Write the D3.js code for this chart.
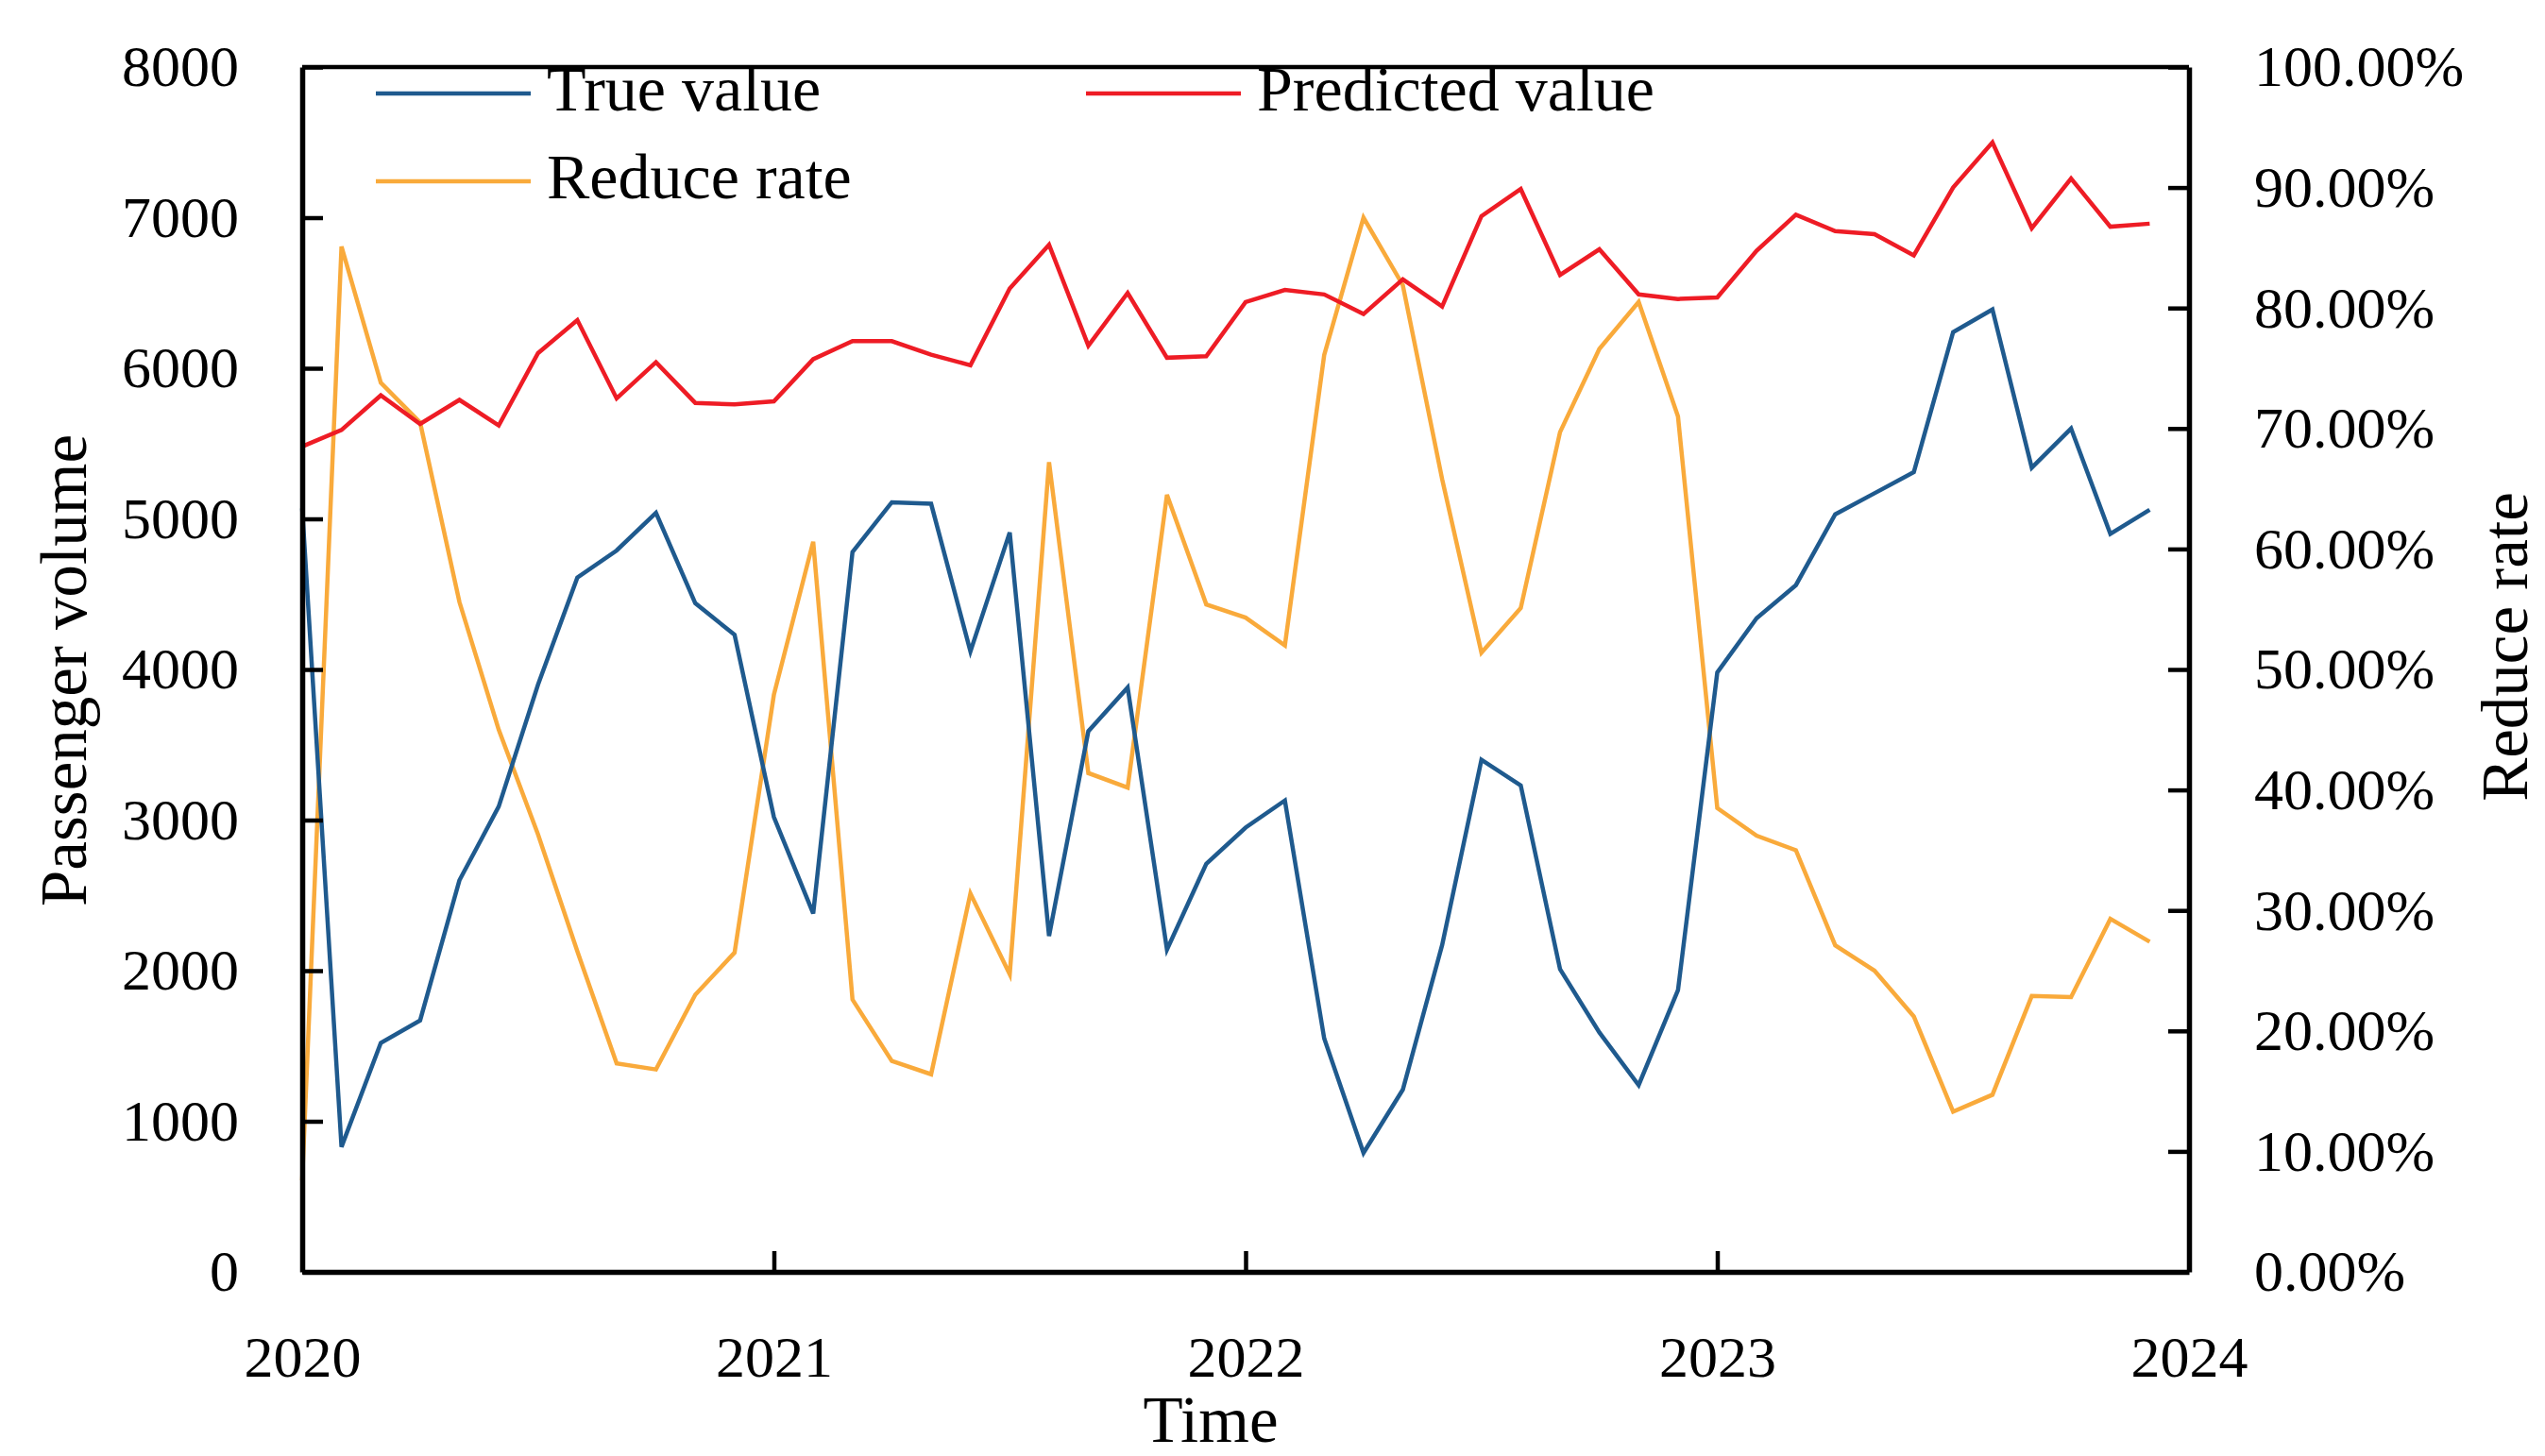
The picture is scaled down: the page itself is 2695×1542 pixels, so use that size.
<!DOCTYPE html>
<html>
<head>
<meta charset="utf-8">
<script src="https://cdn.jsdelivr.net/npm/d3@7"></script>
<style>
  body { margin: 0; background: #fff; }
  text { font-family: "Liberation Serif", serif; }
</style>
</head>
<body>
<svg id="chart"></svg>
<script>
// monthly data, Jan 2020 - Dec 2023
const months = d3.range(48).map(i => 2020 + i / 12)

const trueValue = [
  5070, 830, 1520, 1670, 2600, 3090, 3900, 4610, 4790, 5040, 4440, 4230,
  3020, 2380, 4780, 5110, 5100, 4120, 4910, 2230, 3590, 3880, 2140, 2710,
  2950, 3130, 1550, 790, 1210, 2170, 3400, 3230, 2010, 1590, 1240, 1870,
  3980, 4340, 4560, 5030, 5170, 5310, 6240, 6390, 5340, 5600, 4900, 5060
]
const predictedValue = [
  5480, 5590, 5820, 5630, 5790, 5620, 6100, 6320, 5800, 6040, 5770, 5760,
  5780, 6060, 6180, 6180, 6090, 6020, 6530, 6820, 6150, 6500, 6070, 6080,
  6440, 6520, 6490, 6360, 6590, 6410, 7010, 7190, 6620, 6790, 6490, 6460,
  6470, 6780, 7020, 6910, 6890, 6750, 7200, 7500, 6930, 7260, 6940, 6960
]
const reduceRate = [
  0.076, 0.851, 0.738, 0.705, 0.556, 0.450, 0.363, 0.266, 0.173, 0.168, 0.230, 0.265,
  0.479, 0.606, 0.226, 0.175, 0.164, 0.314, 0.247, 0.672, 0.414, 0.402, 0.645, 0.554,
  0.543, 0.520, 0.761, 0.875, 0.819, 0.658, 0.514, 0.551, 0.697, 0.766, 0.805, 0.710,
  0.385, 0.362, 0.350, 0.271, 0.250, 0.212, 0.133, 0.147, 0.229, 0.228, 0.293, 0.274
]

const yearTicks = [2020, 2021, 2022, 2023, 2024]
const leftTicks = [0, 1000, 2000, 3000, 4000, 5000, 6000, 7000, 8000]
const rightTicks = d3.range(0, 11).map(d => d / 10)

const seriesNames = ['True value', 'Predicted value', 'Reduce rate']
const seriesColors = ['#1f5a8e', '#ee1c25', '#f9aa3b']

const width = 2695, height = 1542
const margin = {top: 71, right: 377, bottom: 195, left: 320}
const chartwidth = width - margin.left - margin.right
const chartheight = height - margin.top - margin.bottom

const svg = d3.select('#chart')
  .attr('width', width)
  .attr('height', height)

const x = d3.scaleLinear()
  .domain([2020, 2024])
  .range([margin.left, margin.left + chartwidth])

const y = d3.scaleLinear()
  .domain([0, 8000])
  .range([margin.top + chartheight, margin.top])

const y2 = d3.scaleLinear()
  .domain([0, 1])
  .range([margin.top + chartheight, margin.top])

// top frame line
svg.append('line')
  .attr('x1', x(2020)).attr('x2', x(2024))
  .attr('y1', y(8000)).attr('y2', y(8000))
  .attr('stroke', '#000').attr('stroke-width', 4.5)

// lines
const lineLeft = vals => d3.line().x((d, i) => x(months[i])).y(d => y(d))(vals)
const lineRight = d3.line().x((d, i) => x(months[i])).y(d => y2(d))

const plot = svg.append('g').attr('fill', 'none').attr('stroke-width', 4.5).attr('stroke-linejoin', 'miter')
plot.append('path').attr('d', lineRight(reduceRate)).attr('stroke', seriesColors[2])
plot.append('path').attr('d', lineLeft(predictedValue)).attr('stroke', seriesColors[1])
plot.append('path').attr('d', lineLeft(trueValue)).attr('stroke', seriesColors[0])

// axes
function styleAxis(g) {
  g.select('.domain').attr('stroke-width', 5.5)
  g.selectAll('.tick line').attr('stroke-width', 4.5)
  g.selectAll('text').attr('font-size', '62px').attr('fill', '#000')
    .attr('font-family', '"Liberation Serif", serif')
}

svg.append('g')
  .attr('transform', 'translate(' + margin.left + ',0)')
  .call(d3.axisLeft(y).tickValues(leftTicks).tickFormat(d3.format('d'))
    .tickSizeInner(-22).tickSizeOuter(0).tickPadding(67))
  .call(styleAxis)

svg.append('g')
  .attr('transform', 'translate(' + (margin.left + chartwidth) + ',0)')
  .call(d3.axisRight(y2).tickValues(rightTicks).tickFormat(d3.format('.2%'))
    .tickSizeInner(-22).tickSizeOuter(0).tickPadding(69))
  .call(styleAxis)

svg.append('g')
  .attr('transform', 'translate(0,' + (margin.top + chartheight) + ')')
  .call(d3.axisBottom(x).tickValues(yearTicks).tickFormat(d3.format('d'))
    .tickSizeInner(-22).tickSizeOuter(0).tickPadding(67))
  .call(styleAxis)

// axis titles
svg.append('text')
  .attr('transform', 'translate(91,710) rotate(-90)')
  .attr('text-anchor', 'middle')
  .attr('font-size', '69px')
  .text('Passenger volume')

svg.append('text')
  .attr('transform', 'translate(2676,685) rotate(-90)')
  .attr('text-anchor', 'middle')
  .attr('font-size', '69px')
  .text('Reduce rate')

svg.append('text')
  .attr('x', 1282).attr('y', 1527)
  .attr('text-anchor', 'middle')
  .attr('font-size', '69px')
  .text('Time')

// legend
const legendPos = [[398, 99], [1150, 99], [398, 192]]
const legend = svg.append('g')
seriesNames.forEach((name, i) => {
  const [lx, ly] = legendPos[i]
  legend.append('line')
    .attr('x1', lx).attr('x2', lx + 164)
    .attr('y1', ly).attr('y2', ly)
    .attr('stroke', seriesColors[i]).attr('stroke-width', 4.5)
  legend.append('text')
    .attr('x', lx + 181).attr('y', ly + 18)
    .attr('font-size', '68px')
    .text(name)
})
</script>
</body>
</html>
